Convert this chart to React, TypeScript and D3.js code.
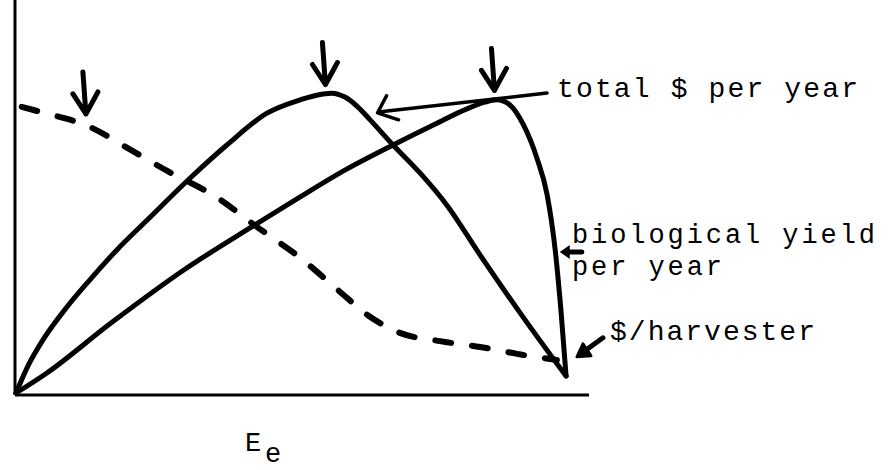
import React from "react";
import * as d3 from "d3";

// Effort (0–100) against value (0–100), sketched economics of a fishery
const totalDollars: [number, number][] = [
  [0, 0], [2.2, 7.2], [4.7, 13.5], [8.9, 21.9], [12.9, 28.8], [17.6, 36.4], [22.9, 44.0],
  [30.4, 54.7], [36.8, 63.1], [43.8, 71.2], [49.6, 74.6], [53.6, 76.1],
  [55.1, 76.3], [57.4, 75.3], [59.5, 73.0], [61.8, 69.5], [65.8, 63.1],
  [70.5, 56.0], [75.2, 47.8], [81.0, 35.1], [88.5, 19.3], [96.0, 4.3],
];

const biologicalYield: [number, number][] = [
  [0, 0], [5.4, 5.1], [16.4, 17.6], [29.8, 31.8], [41.4, 42.5], [49.6, 49.9],
  [57.4, 56.7], [65.8, 63.1], [73.1, 68.4], [78.7, 72.3], [81.8, 74.0],
  [83.9, 74.6], [86.2, 73.3], [88.5, 68.4], [90.9, 59.8], [92.7, 50.4],
  [94.1, 36.4], [95.1, 21.1], [96.0, 4.3],
];

const dollarsPerHarvester: [number, number][] = [
  [1.0, 72.8], [5.1, 71.2], [12.6, 67.9], [19.5, 62.3], [26.4, 56.5],
  [34.7, 50.1], [42.1, 42.2], [49.6, 34.4], [56.2, 26.2], [61.4, 19.8],
  [67.0, 15.3], [74.0, 13.2], [81.0, 11.7], [89.7, 9.4], [94.4, 8.4],
];

// Down arrows marking the optimum of each curve
const optimumMarks: [number, number][] = [
  [12.2, 71.0],
  [54.0, 78.5],
  [83.5, 77.0],
];

const labelTotal = "total $ per year";
const labelYield = ["biological yield", "per year"];
const labelHarvester = "$/harvester";
const axisLabel = "E";
const axisSubscript = "e";

const W = 888;
const H = 470;

export default function App() {
  const x = d3.scaleLinear().domain([0, 100]).range([16, 589]);
  const y = d3.scaleLinear().domain([0, 100]).range([393, 0]);

  const line = d3
    .line<[number, number]>()
    .x((d) => x(d[0]))
    .y((d) => y(d[1]))
    .curve(d3.curveMonotoneX);

  const font = "'Liberation Mono', 'Courier New', monospace";
  const ink = "#000";

  const downArrow = (px: number, py: number, i: number) => {
    const p = d3.path();
    p.moveTo(px - 3, py - 42);
    p.lineTo(px, py);
    p.moveTo(px - 13, py - 20);
    p.lineTo(px, py);
    p.lineTo(px + 12, py - 22);
    return (
      <path
        key={i}
        d={p.toString()}
        fill="none"
        stroke={ink}
        strokeWidth={5}
        strokeLinecap="round"
        strokeLinejoin="round"
      />
    );
  };

  // Pointer from the "total $" label to the curve just past its peak
  const tA: [number, number] = [x(63.1), y(71.3)];
  const pointer = d3.path();
  pointer.moveTo(547, 93);
  pointer.lineTo(tA[0] + 3, tA[1] - 1);
  pointer.moveTo(tA[0] + 9, tA[1] - 17);
  pointer.lineTo(tA[0], tA[1]);
  pointer.lineTo(tA[0] + 21, tA[1] + 7);

  // Small pointer to the yield curve
  const yTip: [number, number] = [x(94.9), y(35.9)];
  // Pointer to the $/harvester end of the curves
  const hTip: [number, number] = [x(97.9), y(9.2)];

  return (
    <svg
      width={W}
      height={H}
      style={{ position: "absolute", left: 0, top: 0, background: "#fff" }}
    >
      {/* axes */}
      <line x1={x(0) - 1} y1={0} x2={x(0) - 1} y2={y(0) + 2} stroke={ink} strokeWidth={3} />
      <line x1={x(0) - 1} y1={y(0) + 2} x2={x(100)} y2={y(0) + 2} stroke={ink} strokeWidth={3} />

      {/* curves */}
      <path d={line(totalDollars) || ""} fill="none" stroke={ink} strokeWidth={5} strokeLinecap="round" strokeLinejoin="round" />
      <path d={line(biologicalYield) || ""} fill="none" stroke={ink} strokeWidth={5} strokeLinecap="round" strokeLinejoin="round" />
      <path
        d={line(dollarsPerHarvester) || ""}
        fill="none"
        stroke={ink}
        strokeWidth={6}
        strokeLinecap="round"
        strokeDasharray="16 21"
      />

      {optimumMarks.map((m, i) => downArrow(x(m[0]), y(m[1]), i))}

      <path d={pointer.toString()} fill="none" stroke={ink} strokeWidth={3.5} strokeLinecap="round" strokeLinejoin="round" />

      <line x1={yTip[0] + 6} y1={yTip[1]} x2={yTip[0] + 22} y2={yTip[1]} stroke={ink} strokeWidth={5} strokeLinecap="round" />
      <path
        d={`M${yTip[0]},${yTip[1]} L${yTip[0] + 10},${yTip[1] - 7} L${yTip[0] + 10},${yTip[1] + 7} Z`}
        fill={ink}
      />

      <line x1={hTip[0] + 8} y1={hTip[1] - 6} x2={hTip[0] + 26} y2={hTip[1] - 19} stroke={ink} strokeWidth={5} strokeLinecap="round" />
      <path
        d={`M${hTip[0]},${hTip[1]} L${hTip[0] + 6},${hTip[1] - 13} L${hTip[0] + 14},${hTip[1] - 1} Z`}
        fill={ink}
        stroke={ink}
        strokeWidth={3}
        strokeLinejoin="round"
      />

      {/* labels */}
      <g fontFamily={font} fontSize={28} fill={ink}>
        <text x={557} y={97} textLength={301} lengthAdjust="spacing">{labelTotal}</text>
        <text x={572} y={243} fontSize={27} textLength={303} lengthAdjust="spacing">{labelYield[0]}</text>
        <text x={572} y={275} fontSize={27} textLength={150} lengthAdjust="spacing">{labelYield[1]}</text>
        <text x={610} y={340} textLength={205} lengthAdjust="spacing">{labelHarvester}</text>
        <text x={245} y={451} fontSize={27}>
          {axisLabel}
          <tspan x={265} y={462}>{axisSubscript}</tspan>
        </text>
      </g>
    </svg>
  );
}
